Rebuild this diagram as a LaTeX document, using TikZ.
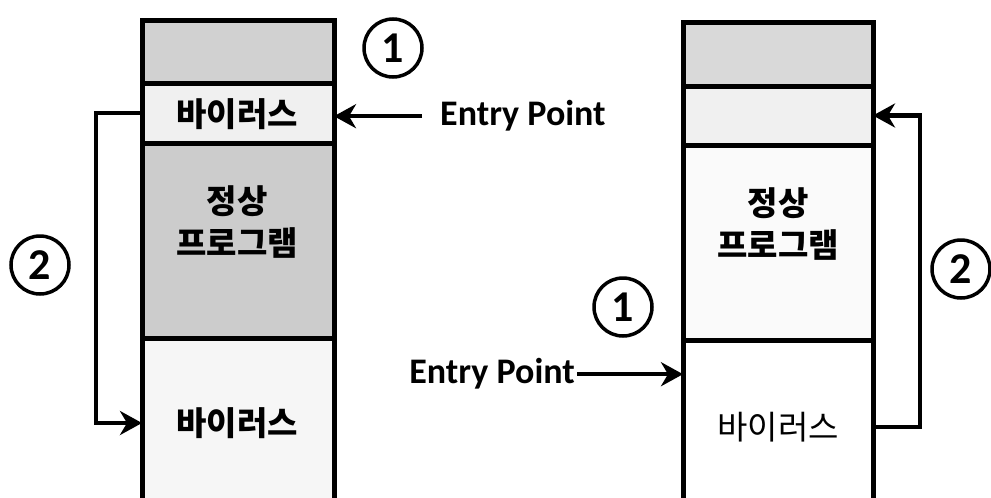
\documentclass[tikz,border=0pt]{standalone}
\usepackage{fontspec}
\setmainfont{Carlito}
\newfontfamily\kr{Noto Sans CJK KR}
\usetikzlibrary{arrows.meta}
\begin{document}
\begin{tikzpicture}[x=1pt,y=-1pt,
  box/.style={draw,line width=5pt,minimum width=192pt,inner sep=0pt,outer sep=0pt,anchor=north west},
  rbox/.style={box,minimum width=190pt},
  kt/.style={font=\kr\fontsize{33}{33}\selectfont\bfseries,inner sep=0pt},
  ktr/.style={font=\kr\fontsize{33}{33}\selectfont,inner sep=0pt},
  ep/.style={font=\fontsize{36}{36}\selectfont\bfseries,inner sep=0pt},
  num/.style={circle,draw,line width=3.5pt,minimum size=58pt,inner sep=0pt,font=\fontsize{44}{44}\selectfont\bfseries},
  arr/.style={line width=4.5pt,-{Stealth[length=22pt,width=24pt,inset=7pt]}}]
\path[use as bounding box,clip] (0,0) rectangle (991,498);
\fill[white] (0,0) rectangle (991,498);
% left column
\node[box,fill=gray!36,minimum height=63pt] (L1) at (142,20) {};
\node[box,fill=gray!12,minimum height=60pt] (L2) at (142,83) {};
\node[box,fill=gray!40,minimum height=195pt] (L3) at (142,143) {};
\node[box,fill=gray!7,minimum height=170pt] (L4) at (142,338) {};
\node[kt] (tL2) at (237,114) {바이러스};
\node[kt] (tL3a) at (237,201) {정상};
\node[kt] (tL3b) at (237,243) {프로그램};
\node[kt] (tL4) at (237,423) {바이러스};
% right column
\node[rbox,fill=gray!30,minimum height=64pt] (R1) at (683,22) {};
\node[rbox,fill=gray!12,minimum height=59pt] (R2) at (683,86) {};
\node[rbox,fill=gray!4,minimum height=195pt] (R3) at (683,145) {};
\node[rbox,fill=white,minimum height=174pt] (R4) at (683,340) {};
\node[kt] (tR3a) at (778,203) {정상};
\node[kt] (tR3b) at (778,245) {프로그램};
\node[ktr] (tR4) at (778,427) {바이러스};
% labels
\node[ep,anchor=base west] (ep1) at (440,125) {Entry Point};
\node[ep,anchor=base east] (ep2) at (575,383) {Entry Point};
\node[num] (n1a) at (393,48) {1};
\node[num] (n2a) at (40,265) {2};
\node[num] (n1b) at (623,307) {1};
\node[num] (n2b) at (961,269) {2};
% arrows
\draw[arr] ([xshift=-18pt,yshift=-1pt]ep1.west) -- ([yshift=-1pt]ep1.west -| L2.east);
\draw[arr] ([xshift=2pt,yshift=-1pt]ep2.east) -- ([yshift=-1pt]ep2.east -| R4.west);
\coordinate (cL) at (96,423);
\draw[arr] (L2.west) -| (cL) -- (cL -| L4.west);
\coordinate (cR) at (920,427);
\draw[arr] (cR -| R4.east) -- (cR) |- (R2.east);
\end{tikzpicture}
\end{document}
